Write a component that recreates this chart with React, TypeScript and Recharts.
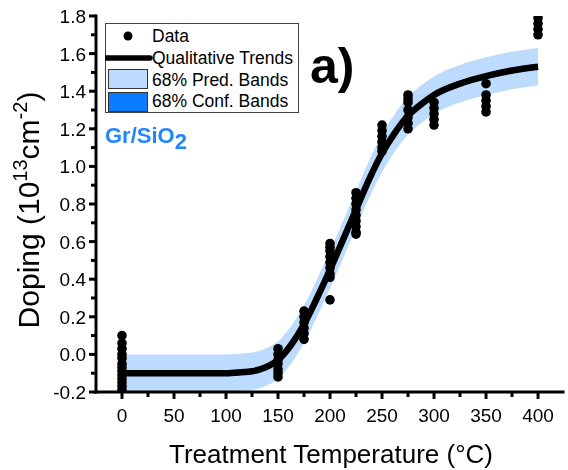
import React from 'react';
import {
  ComposedChart,
  XAxis,
  YAxis,
  Area,
  Line,
  Scatter,
  Legend,
} from 'recharts';

// fitted trend (sigmoid-like), sampled along temperature
const trendTemps = [0, 25, 50, 75, 100, 115, 125, 137.5, 150, 162.5, 175, 187.5, 200, 212.5, 225, 237.5, 250, 262.5, 275, 287.5, 300, 325, 350, 375, 400];
const trendDoping = [-0.1, -0.1, -0.1, -0.1, -0.1, -0.095, -0.09, -0.07, -0.03, 0.05, 0.16, 0.3, 0.45, 0.61, 0.77, 0.93, 1.07, 1.18, 1.27, 1.33, 1.38, 1.44, 1.48, 1.51, 1.53];
const predHalfWidth = [0.1, 0.1, 0.1, 0.1, 0.1, 0.1, 0.1, 0.1, 0.1, 0.1, 0.1, 0.1, 0.1, 0.1, 0.1, 0.1, 0.1, 0.1, 0.1, 0.1, 0.1, 0.1, 0.1, 0.1, 0.1];
const confHalfWidth = [0.015, 0.015, 0.015, 0.015, 0.015, 0.015, 0.015, 0.015, 0.015, 0.015, 0.015, 0.015, 0.015, 0.015, 0.015, 0.015, 0.015, 0.015, 0.015, 0.015, 0.015, 0.015, 0.015, 0.015, 0.015];

// measured samples
const sampleTemps = [
  0, 0, 0, 0, 0, 0, 0, 0, 0, 0, 0, 0, 0,
  150, 150, 150, 150, 150, 150, 150,
  175, 175, 175, 175, 175, 175,
  200, 200, 200, 200, 200, 200, 200, 200, 200,
  225, 225, 225, 225, 225, 225, 225, 225, 225,
  250, 250, 250, 250, 250, 250,
  275, 275, 275, 275, 275, 275, 275,
  300, 300, 300, 300, 300,
  350, 350, 350, 350, 350,
  400, 400, 400, 400,
];
const sampleDoping = [
  0.1, 0.06, 0.03, 0.0, -0.02, -0.05, -0.07, -0.09, -0.11, -0.13, -0.15, -0.17, -0.19,
  0.03, 0.0, -0.03, -0.05, -0.08, -0.1, -0.12,
  0.23, 0.2, 0.17, 0.14, 0.11, 0.08,
  0.59, 0.57, 0.55, 0.52, 0.49, 0.46, 0.43, 0.41, 0.29,
  0.86, 0.83, 0.8, 0.77, 0.74, 0.71, 0.68, 0.65, 0.64,
  1.22, 1.19, 1.16, 1.13, 1.1, 1.08,
  1.38, 1.36, 1.34, 1.3, 1.26, 1.23, 1.2,
  1.34, 1.31, 1.28, 1.25, 1.22,
  1.44, 1.38, 1.35, 1.32, 1.29,
  1.79, 1.76, 1.73, 1.7,
];

const xTicks = [0, 25, 50, 75, 100, 125, 150, 175, 200, 225, 250, 275, 300, 325, 350, 375, 400];
const yTicks = [-0.2, -0.1, 0, 0.1, 0.2, 0.3, 0.4, 0.5, 0.6, 0.7, 0.8, 0.9, 1.0, 1.1, 1.2, 1.3, 1.4, 1.5, 1.6, 1.7, 1.8];

const FONT = '"Liberation Sans", Arial, sans-serif';
const PRED_FILL = '#bddcfd';
const CONF_FILL = '#0a7cff';

const trendData = trendTemps.map((t, i) => ({
  temp: t,
  doping: trendDoping[i],
  pred: [trendDoping[i] - predHalfWidth[i], trendDoping[i] + predHalfWidth[i]],
  conf: [trendDoping[i] - confHalfWidth[i], trendDoping[i] + confHalfWidth[i]],
}));

const samples = sampleTemps.map((t, i) => ({ temp: t, doping: sampleDoping[i] }));

const XTick = ({ x, y, payload }: any) => {
  const major = payload.value % 50 === 0;
  return (
    <g>
      <line x1={x} y1={y} x2={x} y2={y + (major ? 7 : 5)} stroke="#000" strokeWidth={3} />
      {major && (
        <text x={x} y={y + 30} textAnchor="middle" fontSize={19} fontFamily={FONT} fill="#000">
          {payload.value}
        </text>
      )}
    </g>
  );
};

const YTick = ({ x, y, payload }: any) => {
  const major = Math.round(payload.value * 10) % 2 === 0;
  return (
    <g>
      <line x1={x} y1={y} x2={x - (major ? 7 : 5)} y2={y} stroke="#000" strokeWidth={3} />
      {major && (
        <text x={x - 10} y={y + 7} textAnchor="end" fontSize={19} fontFamily={FONT} fill="#000">
          {payload.value.toFixed(1)}
        </text>
      )}
    </g>
  );
};

const renderYTitle = () => (
  <text x={39} y={210} transform="rotate(-90, 39, 210)" textAnchor="middle" fontSize={30} fontFamily={FONT} fill="#000">
    Doping (10
    <tspan dy={-12} fontSize={20}>13</tspan>
    <tspan dy={12}>cm</tspan>
    <tspan dy={-12} fontSize={20}>-2</tspan>
    <tspan dy={12}>)</tspan>
  </text>
);

const LegendBox = () => (
  <svg width={195} height={92} style={{ display: 'block' }}>
    <rect x={0.5} y={0.5} width={193} height={89} fill="#fff" stroke="#444" strokeWidth={1} />
    <circle cx={23} cy={13} r={4.5} fill="#000" />
    <text x={47} y={19} fontSize={17.5} fontFamily={FONT} fill="#000">Data</text>
    <line x1={1} y1={35} x2={45} y2={35} stroke="#000" strokeWidth={5.5} strokeLinecap="round" />
    <text x={47} y={41} fontSize={17.5} fontFamily={FONT} fill="#000">Qualitative Trends</text>
    <rect x={3.5} y={46.5} width={39} height={19} fill={PRED_FILL} stroke="#333" strokeWidth={1} />
    <text x={47} y={63} fontSize={17.5} fontFamily={FONT} fill="#000">68% Pred. Bands</text>
    <rect x={3.5} y={69.5} width={39} height={19} fill={CONF_FILL} stroke="#333" strokeWidth={1} />
    <text x={47} y={84} fontSize={17.5} fontFamily={FONT} fill="#000">68% Conf. Bands</text>
  </svg>
);

const Dot = ({ cx, cy }: any) => <circle cx={cx} cy={cy} r={4.8} fill="#000" />;

export default function App() {
  return (
    <div style={{ position: 'fixed', left: 0, top: 0, width: 568, height: 470, fontFamily: FONT }}>
      <ComposedChart
        width={568}
        height={470}
        data={trendData}
        margin={{ top: 16, right: 5, bottom: 0, left: 0 }}
      >
        <XAxis
          dataKey="temp"
          type="number"
          domain={[-25, 424]}
          ticks={xTicks}
          interval={0}
          tick={<XTick />}
          tickLine={false}
          tickSize={0}
          tickMargin={0}
          height={78}
          allowDataOverflow
          axisLine={{ stroke: '#000', strokeWidth: 3, strokeLinecap: 'square' }}
        />
        <XAxis
          xAxisId="top"
          orientation="top"
          type="number"
          domain={[-25, 424]}
          height={0}
          tick={false}
          tickLine={false}
          allowDataOverflow
          axisLine={{ stroke: '#000', strokeWidth: 3, strokeLinecap: 'square' }}
        />
        <YAxis
          type="number"
          domain={[-0.2, 1.8]}
          ticks={yTicks}
          interval={0}
          tick={<YTick />}
          tickLine={false}
          tickSize={0}
          tickMargin={0}
          width={96}
          allowDataOverflow
          axisLine={{ stroke: '#000', strokeWidth: 3, strokeLinecap: 'square' }}
          label={{ content: renderYTitle }}
        />
        <YAxis
          yAxisId="right"
          orientation="right"
          type="number"
          domain={[-0.2, 1.8]}
          width={0}
          tick={false}
          tickLine={false}
          allowDataOverflow
          axisLine={{ stroke: '#000', strokeWidth: 2.5 }}
        />
        <Legend
          layout="vertical"
          align="center"
          verticalAlign="middle"
          content={() => <LegendBox />}
          wrapperStyle={{ position: 'absolute', left: 105, top: 23, width: 195, height: 92 }}
        />
        <Area
          type="monotone"
          dataKey="pred"
          fill={PRED_FILL}
          fillOpacity={1}
          stroke="none"
          isAnimationActive={false}
        />
        <Area
          type="monotone"
          dataKey="conf"
          fill={CONF_FILL}
          fillOpacity={1}
          stroke="none"
          isAnimationActive={false}
        />
        <Line
          type="monotone"
          dataKey="doping"
          stroke="#000"
          strokeWidth={6.5}
          dot={false}
          isAnimationActive={false}
        />
        <Scatter data={samples} dataKey="doping" shape={<Dot />} isAnimationActive={false} />
      </ComposedChart>
      <svg
        width={568}
        height={470}
        style={{ position: 'absolute', left: 0, top: 0, pointerEvents: 'none' }}
      >
        <text x={310} y={83} fontSize={50} fontWeight="bold" fontFamily={FONT} fill="#000">a)</text>
        <text x={105} y={143} fontSize={22} fontWeight="bold" fontFamily={FONT} fill="#1f86ff">
          Gr/SiO<tspan dy={6}>2</tspan>
        </text>
        <text x={331} y={463} textAnchor="middle" fontSize={26} fontFamily={FONT} fill="#000">
          Treatment Temperature (°C)
        </text>
      </svg>
    </div>
  );
}
